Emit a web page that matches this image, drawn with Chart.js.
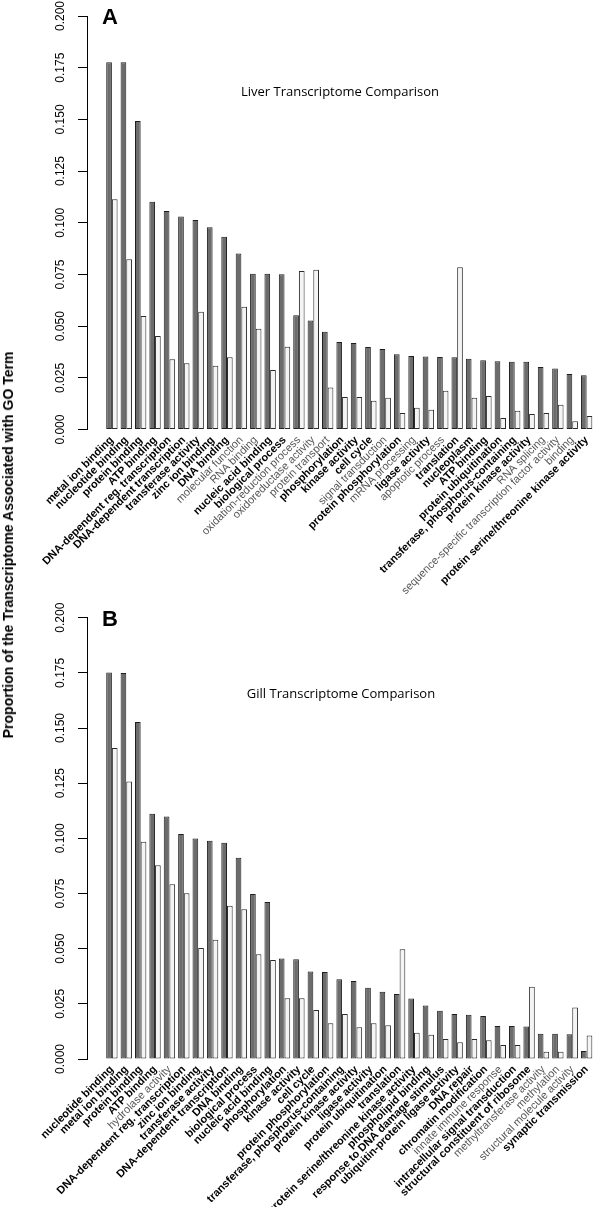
<!DOCTYPE html>
<html>
<head>
<meta charset="utf-8">
<script src="https://cdn.jsdelivr.net/npm/chart.js@4.4.1/dist/chart.umd.min.js"></script>
<style>
  html, body { margin: 0; padding: 0; background: #fff; }
  body { width: 600px; height: 1207px; position: relative; overflow: hidden; }
  canvas { position: absolute; left: 0; }
  #cA { top: 0; }
  #cB { top: 600px; }
  .panel { position: absolute; font: bold 22px "Liberation Sans", Arial, sans-serif; color: #000; line-height: 1; }
  .ttl { position: absolute; font: 13px "Open Sans", sans-serif; color: #000; white-space: nowrap; transform: translate(-50%, -50%); }
  #ytitle { position: absolute; left: 8px; top: 545px; font: bold 14px "Liberation Sans", Arial, sans-serif; white-space: nowrap; transform: translate(-50%, -50%) rotate(-90deg); color: #000; }
</style>
</head>
<body>
<canvas id="cA" width="600" height="600"></canvas>
<canvas id="cB" width="600" height="607"></canvas>
<div class="panel" style="left:102px; top:6px;">A</div>
<div class="panel" style="left:102px; top:608px;">B</div>
<div class="ttl" style="left:340px; top:91px;">Liver Transcriptome Comparison</div>
<div class="ttl" style="left:341px; top:693px;">Gill Transcriptome Comparison</div>
<div id="ytitle">Proportion of the Transcriptome Associated with GO Term</div>
<script>
const liverCategories = [
  "metal ion binding", "nucleotide binding", "protein binding", "ATP binding",
  "DNA-dependent reg. transcription", "DNA-dependent transcription", "transferase activity",
  "zinc ion binding", "DNA binding", "molecular function", "RNA binding", "nucleic acid binding",
  "biological process", "oxidation-reduction process", "oxidoreductase activity", "protein transport",
  "phosphorylation", "kinase activity", "cell cycle", "signal transduction", "protein phosphorylation",
  "mRNA processing", "ligase activity", "apoptotic process", "translation", "nucleoplasm",
  "ATP binding", "protein ubiquitination", "transferase, phosphorus-containing", "protein kinase activity",
  "RNA splicing", "sequence-specific transcription factor activity", "binding",
  "protein serine/threonine kinase activity"
];
const liverDark = [0.1776,0.1776,0.1492,0.1102,0.1057,0.1030,0.1014,0.0978,0.0933,0.0851,0.0754,0.0754,0.0751,0.0553,0.0527,0.0473,0.0424,0.0419,0.0399,0.0390,0.0364,0.0356,0.0354,0.0351,0.0350,0.0343,0.0335,0.0330,0.0328,0.0328,0.0303,0.0295,0.0269,0.0263];
const liverLight = [0.1114,0.0824,0.0549,0.0453,0.0340,0.0321,0.0570,0.0309,0.0350,0.0594,0.0488,0.0288,0.0401,0.0767,0.0773,0.0203,0.0158,0.0158,0.0140,0.0154,0.0080,0.0106,0.0096,0.0188,0.0785,0.0154,0.0162,0.0056,0.0091,0.0075,0.0080,0.0120,0.0040,0.0066];
const liverPlainLabels = ["molecular function", "RNA binding", "oxidation-reduction process", "oxidoreductase activity",
  "protein transport", "signal transduction", "mRNA processing", "apoptotic process", "RNA splicing",
  "sequence-specific transcription factor activity", "binding"];

const gillCategories = [
  "nucleotide binding", "metal ion binding", "protein binding", "ATP binding", "hydrolase activity",
  "DNA-dependent reg. transcription", "zinc ion binding", "transferase activity", "DNA-dependent transcription",
  "DNA binding", "biological process", "nucleic acid binding", "phosphorylation", "kinase activity",
  "cell cycle", "protein phosphorylation", "transferase, phosphorus-containing", "protein kinase activity",
  "ligase activity", "protein ubiquitination", "translation", "protein serine/threonine kinase activity",
  "phospholipid binding", "response to DNA damage stimulus", "ubiquitin-protein ligase activity",
  "DNA repair", "chromatin modification", "innate immune response", "intracellular signal transduction",
  "structural constituent of ribosome", "methyltransferase activity", "methylation",
  "structural molecule activity", "synaptic transmission"
];
const gillDark = [0.1752,0.1749,0.1527,0.1112,0.1099,0.1020,0.0999,0.0989,0.0980,0.0912,0.0748,0.0712,0.0456,0.0452,0.0396,0.0394,0.0361,0.0354,0.0323,0.0305,0.0295,0.0274,0.0242,0.0219,0.0204,0.0200,0.0195,0.0150,0.0150,0.0147,0.0115,0.0115,0.0112,0.0036];
const gillLight = [0.1409,0.1258,0.0985,0.0878,0.0792,0.0751,0.0503,0.0541,0.0694,0.0679,0.0475,0.0449,0.0275,0.0275,0.0222,0.0162,0.0204,0.0144,0.0162,0.0153,0.0497,0.0119,0.0110,0.0091,0.0076,0.0091,0.0085,0.0063,0.0063,0.0328,0.0033,0.0033,0.0233,0.0106];
const gillPlainLabels = ["hydrolase activity", "innate immune response", "methyltransferase activity",
  "methylation", "structural molecule activity"];

const yTickValues = [0, 0.025, 0.05, 0.075, 0.1, 0.125, 0.15, 0.175, 0.2];

function makeChart(canvasId, categories, dark, light, plainLabels, areaTop, xHeight) {
  const plain = new Set(plainLabels);
  return new Chart(document.getElementById(canvasId), {
    type: 'bar',
    data: {
      labels: categories,
      datasets: [
        { data: dark, backgroundColor: '#6c6c6c', borderColor: '#1e1e1e', borderWidth: 1, borderSkipped: false,
          categoryPercentage: 0.79, barPercentage: 1, yAxisID: 'y' },
        { data: light, backgroundColor: '#f4f4f4', borderColor: '#2a2a2a', borderWidth: 1, borderSkipped: false,
          categoryPercentage: 0.79, barPercentage: 1, yAxisID: 'y' }
      ]
    },
    options: {
      responsive: false,
      animation: false,
      devicePixelRatio: 1,
      layout: { padding: { top: areaTop, right: 1.7, left: 0, bottom: 0 } },
      plugins: { legend: { display: false }, tooltip: { enabled: false }, title: { display: false } },
      scales: {
        x: {
          type: 'category',
          grid: { display: false, drawTicks: false },
          border: { display: false },
          ticks: {
            autoSkip: false,
            minRotation: 45, maxRotation: 45,
            padding: 4,
            color: (ctx) => plain.has(categories[ctx.index]) ? '#555555' : '#000000',
            font: (ctx) => ({ family: '"Liberation Sans", Arial, sans-serif', size: 11,
              weight: plain.has(categories[ctx.index]) ? 'normal' : 'bold' })
          },
          afterFit: (s) => { s.height = xHeight; }
        },
        y: {
          type: 'linear', position: 'left', weight: 10,
          min: 0, max: 0.2,
          grid: { display: true, drawOnChartArea: false, drawTicks: true, tickLength: 9, color: '#000', lineWidth: 1 },
          border: { display: true, color: '#000', width: 1 },
          afterBuildTicks: (s) => { s.ticks = yTickValues.map(v => ({ value: v })); },
          ticks: {
            minRotation: 90, maxRotation: 90,
            crossAlign: 'center',
            padding: 2,
            color: '#000',
            font: { family: '"Liberation Sans", Arial, sans-serif', size: 12 },
            callback: (v) => Number(v).toFixed(3)
          },
          afterFit: (s) => { s.width = 87; }
        },
        gap: {
          type: 'linear', position: 'left', weight: 0,
          display: true,
          grid: { display: false, drawTicks: false },
          border: { display: false },
          ticks: { display: false },
          afterFit: (s) => { s.width = 17.7; }
        }
      }
    }
  });
}

makeChart('cA', liverCategories, liverDark, liverLight, liverPlainLabels, 16, 170.4);
makeChart('cB', gillCategories, gillDark, gillLight, gillPlainLabels, 17.7, 148);
</script>
</body>
</html>
